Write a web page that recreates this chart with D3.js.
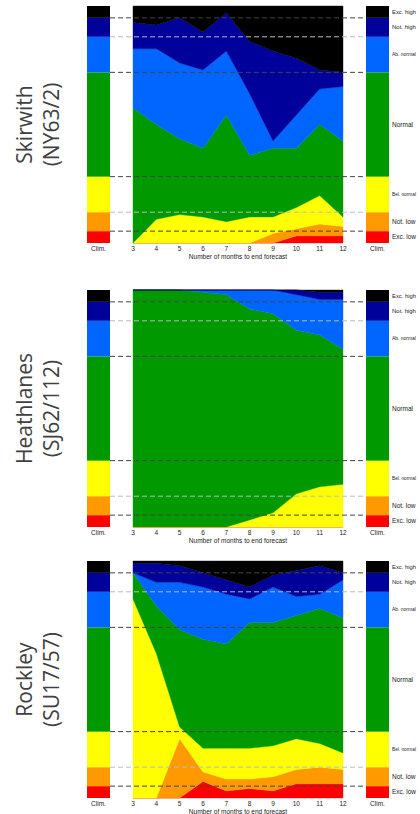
<!DOCTYPE html>
<html>
<head>
<meta charset="utf-8">
<script src="https://cdn.jsdelivr.net/npm/d3@7"></script>
<style>
  body { margin: 0; background: #fff; }
  svg { display: block; }
</style>
</head>
<body>
<svg id="chart"></svg>
<script>
// months ahead (x axis)
const months = [3, 4, 5, 6, 7, 8, 9, 10, 11, 12]
// categories, top to bottom
const categories = ["Exc. high", "Not. high", "Ab. normal", "Normal", "Bel. normal", "Not. low", "Exc. low"]
const colours = ["#000000", "#00009a", "#0066ff", "#009900", "#ffff00", "#ff9900", "#ff0000"]
// climatological probabilities (%) per category
const climProbs = [5, 8, 15, 44, 15, 8, 5]

const siteNames = ["Skirwith", "Heathlanes", "Rockley"]
const siteRefs = ["(NY63/2)", "(SJ62/112)", "(SU17/57)"]

// forecast probabilities (%), one row per category, one column per month
const skirwithProbs = [
  [7, 8, 5, 11, 3, 15, 19, 22, 27, 28],
  [11, 10, 19, 16, 16, 22, 38, 24, 8, 6],
  [25, 32, 32, 33, 27, 26, 3, 14, 15, 23],
  [57, 40, 32, 29, 45, 26, 29, 25, 30, 32],
  [0, 10, 12, 11, 9, 11, 7, 9, 12, 4],
  [0, 0, 0, 0, 0, 0, 4, 3, 5, 4],
  [0, 0, 0, 0, 0, 0, 0, 3, 3, 3]
]
const heathlanesProbs = [
  [0, 0, 0, 0, 0, 0, 0, 0, 1, 1],
  [0, 0, 0, 0, 0, 0, 0, 2, 3, 3],
  [0, 0, 0, 1, 2, 8, 10, 15, 15, 21],
  [100, 100, 100, 99, 98, 89, 84, 69, 64, 57],
  [0, 0, 0, 0, 0, 3, 6, 14, 17, 18],
  [0, 0, 0, 0, 0, 0, 0, 0, 0, 0],
  [0, 0, 0, 0, 0, 0, 0, 0, 0, 0]
]
const rockleyProbs = [
  [1, 1, 2, 5, 8, 11, 6, 4, 2, 5],
  [4, 8, 7, 6, 6, 5, 5, 11, 12, 3],
  [0, 10, 20, 22, 21, 10, 15, 8, 6, 16],
  [11, 20, 41, 46, 44, 53, 52, 52, 57, 57],
  [84, 61, 5, 10, 13, 13, 13, 13, 10, 7],
  [0, 0, 25, 4, 5, 4, 6, 6, 7, 6],
  [0, 0, 0, 7, 3, 4, 3, 6, 6, 6]
]
const siteProbs = [skirwithProbs, heathlanesProbs, rockleyProbs]

const svgWidth = 420, svgHeight = 814
const panelTops = [6, 290, 561]
const panelHeight = 237
const leftBarX = 87, rightBarX = 366, barWidth = 23
const dashColours = { 5: "#444", 13: "#bbb", 28: "#444", 72: "#444", 87: "#bbb", 95: "#444" }
const smallFont = "Liberation Sans, Arial, sans-serif"

const svg = d3.select("#chart")
  .attr("width", svgWidth)
  .attr("height", svgHeight)

const x = d3.scaleLinear().domain([3, 12]).range([133, 343])
const colour = d3.scaleOrdinal().domain(categories).range(colours)
const stack = d3.stack().keys(categories.slice().reverse())

// climatology as one stacked row
const climRow = {}
categories.forEach((c, k) => climRow[c] = climProbs[k])
const climSeries = stack([climRow])
const climBounds = climSeries.slice(0, -1).map(s => s[0][1])

siteProbs.forEach((probs, p) => {
  const top = panelTops[p]
  const bottom = top + panelHeight
  const y = d3.scaleLinear().domain([0, 100]).range([bottom, top])
  const g = svg.append("g")

  const rows = months.map((m, i) => {
    const row = { month: m }
    categories.forEach((c, k) => row[c] = probs[k][i])
    return row
  })

  const area = d3.area()
    .x(d => x(d.data.month))
    .y0(d => y(d[0]))
    .y1(d => y(d[1]))

  g.selectAll("path.band")
    .data(stack(rows))
    .join("path")
    .attr("class", "band")
    .attr("fill", d => colour(d.key))
    .attr("stroke", d => colour(d.key))
    .attr("stroke-width", 0.4)
    .attr("d", area)

  // climatology bars, left and right
  ;[leftBarX, rightBarX].forEach(bx => {
    g.selectAll(null)
      .data(climSeries)
      .join("rect")
      .attr("x", bx)
      .attr("width", barWidth)
      .attr("y", d => y(d[0][1]))
      .attr("height", d => y(d[0][0]) - y(d[0][1]))
      .attr("fill", d => colour(d.key))
  })

  // climatology boundaries
  g.selectAll("line.bound")
    .data(climBounds)
    .join("line")
    .attr("class", "bound")
    .attr("x1", leftBarX + barWidth)
    .attr("x2", rightBarX)
    .attr("y1", d => y(d))
    .attr("y2", d => y(d))
    .attr("stroke", d => dashColours[Math.round(d)] || "#444")
    .attr("stroke-width", 1)
    .attr("stroke-dasharray", "5,3")

  // category labels (font shrunk a little if they would run off the page)
  const labelX = rightBarX + barWidth + 3
  const room = svgWidth - 4 - labelX
  g.selectAll("text.cat")
    .data(climSeries)
    .join("text")
    .attr("class", "cat")
    .attr("x", labelX)
    .attr("y", d => y((d[0][0] + d[0][1]) / 2))
    .attr("dy", "0.35em")
    .attr("font-family", smallFont)
    .attr("font-size", 6.5)
    .attr("fill", "#222")
    .text(d => d.key)
    .each(function() {
      const len = this.getComputedTextLength()
      if (len > room) d3.select(this).attr("font-size", 6.5 * room / len)
    })

  // x tick labels
  g.selectAll("text.tick")
    .data(months)
    .join("text")
    .attr("class", "tick")
    .attr("x", d => x(d))
    .attr("y", bottom + 8)
    .attr("text-anchor", "middle")
    .attr("font-family", smallFont)
    .attr("font-size", 6.5)
    .attr("fill", "#222")
    .text(d => d)

  ;[leftBarX, rightBarX].forEach(bx => {
    g.append("text")
      .attr("x", bx + barWidth / 2)
      .attr("y", bottom + 8)
      .attr("text-anchor", "middle")
      .attr("font-family", smallFont)
      .attr("font-size", 6.5)
      .attr("fill", "#222")
      .text("Clim.")
  })

  g.append("text")
    .attr("x", (x(3) + x(12)) / 2)
    .attr("y", bottom + 16)
    .attr("text-anchor", "middle")
    .attr("font-family", smallFont)
    .attr("font-size", 6.5)
    .attr("fill", "#222")
    .text("Number of months to end forecast")

  // site title, rotated
  const cy = (top + bottom) / 2
  ;[[siteNames[p], 32], [siteRefs[p], 59]].forEach(([t, bx]) => {
    g.append("text")
      .attr("transform", "translate(" + bx + "," + cy + ") rotate(-90)")
      .attr("text-anchor", "middle")
      .attr("font-family", "Open Sans, sans-serif")
      .attr("font-size", 21)
      .attr("fill", "#404040")
      .text(t)
  })
})
</script>
</body>
</html>
